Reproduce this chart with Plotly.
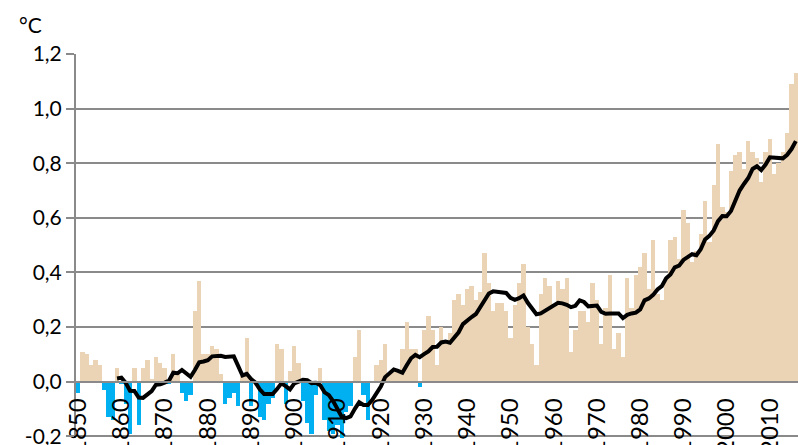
import plotly.graph_objects as go

years = list(range(1850, 2017))

# yearly anomaly (°C)
anomaly = [
    -0.04, 0.11, 0.10, 0.06, 0.08, 0.06, -0.03, -0.13, -0.14, 0.05,   # 1850-1859
    -0.01, -0.08, -0.19, 0.05, -0.16, 0.05, 0.08, 0.01, 0.09, 0.07,   # 1860-1869
    0.05, -0.01, 0.10, 0.03, -0.04, -0.07, -0.05, 0.26, 0.37, 0.10,   # 1870-1879
    0.10, 0.13, 0.12, 0.03, -0.08, -0.06, -0.04, -0.09, 0.02, 0.16,   # 1880-1889
    -0.09, 0.00, -0.13, -0.14, -0.08, -0.06, 0.14, 0.12, -0.08, 0.04, # 1890-1899
    0.13, 0.07, -0.07, -0.15, -0.19, -0.05, 0.05, -0.14, -0.18, -0.19, # 1900-1909
    -0.16, -0.21, -0.11, -0.09, 0.09, 0.19, -0.05, -0.14, 0.00, 0.06, # 1910-1919
    0.08, 0.14, 0.03, 0.05, 0.04, 0.12, 0.22, 0.12, 0.12, -0.02,      # 1920-1929
    0.19, 0.24, 0.19, 0.06, 0.20, 0.15, 0.18, 0.30, 0.32, 0.28,       # 1930-1939
    0.34, 0.35, 0.30, 0.33, 0.47, 0.36, 0.26, 0.29, 0.29, 0.26,       # 1940-1949
    0.16, 0.28, 0.36, 0.43, 0.20, 0.14, 0.06, 0.32, 0.38, 0.35,       # 1950-1959
    0.28, 0.37, 0.34, 0.38, 0.11, 0.19, 0.26, 0.26, 0.22, 0.36,       # 1960-1969
    0.30, 0.14, 0.27, 0.39, 0.12, 0.18, 0.09, 0.38, 0.27, 0.39,       # 1970-1979
    0.42, 0.47, 0.34, 0.52, 0.32, 0.30, 0.38, 0.52, 0.53, 0.45,       # 1980-1989
    0.63, 0.58, 0.44, 0.48, 0.54, 0.66, 0.51, 0.72, 0.87, 0.64,       # 1990-1999
    0.62, 0.77, 0.83, 0.84, 0.78, 0.88, 0.84, 0.82, 0.73, 0.84,       # 2000-2009
    0.89, 0.76, 0.80, 0.84, 0.91, 1.09, 1.13,                         # 2010-2016
]

# smoothed curve (°C) (1859-2016)
line_years = list(range(1859, 2017))
smooth = [
    0.012,
    0.015, -0.004, -0.033, -0.034, -0.058, -0.059, -0.048, -0.034, -0.011, -0.009,
    -0.003, 0.004, 0.033, 0.031, 0.043, 0.031, 0.018, 0.043, 0.071, 0.074,
    0.079, 0.093, 0.095, 0.095, 0.091, 0.092, 0.093, 0.058, 0.023, 0.029,
    0.010, -0.003, -0.028, -0.045, -0.045, -0.045, -0.027, -0.006, -0.016, -0.028,
    -0.006, 0.001, 0.007, 0.006, -0.005, -0.004, -0.013, -0.039, -0.049, -0.072,
    -0.101, -0.129, -0.133, -0.127, -0.099, -0.075, -0.085, -0.085, -0.067, -0.042,
    -0.018, 0.017, 0.031, 0.045, 0.040, 0.033, 0.060, 0.086, 0.098, 0.090,
    0.101, 0.111, 0.127, 0.128, 0.144, 0.147, 0.143, 0.161, 0.181, 0.211,
    0.226, 0.237, 0.248, 0.275, 0.302, 0.323, 0.331, 0.330, 0.327, 0.325,
    0.307, 0.300, 0.306, 0.316, 0.289, 0.267, 0.247, 0.250, 0.259, 0.268,
    0.280, 0.289, 0.287, 0.282, 0.273, 0.278, 0.298, 0.292, 0.276, 0.277,
    0.279, 0.256, 0.249, 0.250, 0.251, 0.250, 0.233, 0.245, 0.250, 0.253,
    0.265, 0.298, 0.305, 0.318, 0.338, 0.350, 0.379, 0.393, 0.419, 0.425,
    0.446, 0.457, 0.467, 0.463, 0.485, 0.521, 0.534, 0.554, 0.588, 0.607,
    0.606, 0.625, 0.664, 0.700, 0.724, 0.746, 0.779, 0.789, 0.775, 0.795,
    0.822, 0.821, 0.818, 0.818, 0.831, 0.852, 0.881,
]

x_tick_vals = list(range(1850, 2011, 10))
x_tick_text = [str(v) for v in x_tick_vals]
y_tick_vals = [-0.2, 0.0, 0.2, 0.4, 0.6, 0.8, 1.0, 1.2]
y_tick_text = ["-0,2", "0,0", "0,2", "0,4", "0,6", "0,8", "1,0", "1,2"]

POS = "#EBD3B5"
NEG = "#00B0F0"
GRID = "#8A8A8A"
FONT = "Lato, 'Open Sans', sans-serif"

colors = [POS if v >= 0 else NEG for v in anomaly]

fig = go.Figure()
fig.add_trace(go.Bar(x=years, y=anomaly, marker=dict(color=colors, line=dict(width=0)),
                     showlegend=False, hoverinfo="x+y"))
fig.add_trace(go.Scatter(x=line_years, y=smooth, mode="lines",
                         line=dict(color="#000000", width=4), showlegend=False))

Y0, Y1 = -0.206, 1.2
fig.update_layout(
    width=798, height=445,
    margin=dict(l=76, r=0, t=54, b=7, autoexpand=False),
    paper_bgcolor="white", plot_bgcolor="white",
    bargap=0,
    font=dict(family=FONT, size=21, color="#000000"),
    xaxis=dict(
        range=[1849.5, 2016.5],
        anchor="free", position=(0 - Y0) / (Y1 - Y0),
        tickmode="array", tickvals=x_tick_vals, ticktext=x_tick_text,
        tickangle=-90, tickfont=dict(size=24),
        showgrid=False, zeroline=False,
        showline=True, linecolor=GRID, linewidth=2,
        ticks="", ticklabelstandoff=6,
        ticklabeloverflow="allow",
        automargin=False,
    ),
    yaxis=dict(
        range=[Y0, Y1],
        tickmode="array", tickvals=y_tick_vals, ticktext=y_tick_text,
        showgrid=True, gridcolor=GRID, gridwidth=1.5,
        zeroline=False,
        showline=True, linecolor=GRID, linewidth=2,
        ticks="outside", ticklen=8, tickcolor=GRID, tickwidth=1.5,
        tickfont=dict(size=21),
        ticklabeloverflow="allow",
        automargin=False,
    ),
    annotations=[dict(text="°C", xref="paper", yref="paper",
                      x=-59 / 722, y=(438 - 24) / 384, xanchor="left", yanchor="middle",
                      showarrow=False, font=dict(family=FONT, size=21, color="#000000"))],
)

fig.write_html(
    "out.html",
    config={"displayModeBar": False},
    post_script="document.body.style.margin='0';document.body.style.overflow='hidden';",
)
